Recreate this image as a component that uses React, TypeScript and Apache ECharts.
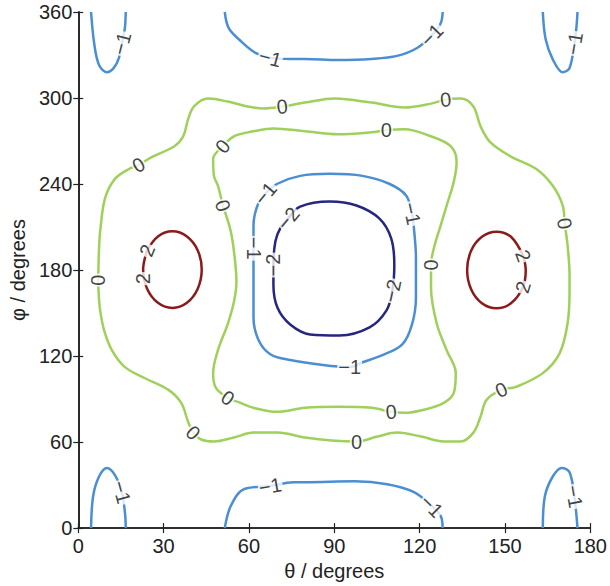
import React, { useEffect, useRef } from "react";
import * as echarts from "echarts";

type P = [number, number];

// Contour lines, in (θ, φ) degrees
const zeroOuter: P[] = [
  [7.0, 173], [7.3, 195], [7.7, 207], [9.4, 230], [12.9, 243.6], [17.8, 250.5],
  [21.2, 253.3], [25.8, 258.8], [33.8, 266.4], [36.9, 273.3], [38.6, 285.1], [40.7, 294.1],
  [45.6, 299.6], [52.6, 297.5], [59.5, 294.1], [65.1, 292.7], [71.7, 294.1], [79.7, 296.8],
  [90.2, 299.6], [103.1, 296.8], [114.6, 293.4], [124.0, 296.1], [129.2, 298.9], [134.4, 299.6],
  [138.9, 294.1], [141.4, 280.3], [144.8, 269.2], [151.8, 259.5], [160.9, 250.6], [166.8, 238.8],
  [170.3, 225.0], [171.0, 212.5], [172.0, 197.3], [172.7, 176.5], [172.7, 165.5], [172.0, 142.7],
  [169.2, 121.9], [163.3, 108.1], [153.9, 98.5], [148.7, 96.4], [143.5, 89.4], [141.4, 77.7],
  [138.9, 66.6], [134.4, 60.4], [128.5, 60.4], [120.5, 63.9], [112.1, 66.6], [105.2, 63.9],
  [97.8, 60.4], [89.1, 61.1], [79.7, 63.2], [70.0, 66.6], [61.6, 66.6], [54.7, 63.2],
  [47.7, 60.4], [43.2, 61.8], [40.4, 66.6], [38.6, 74.2], [36.2, 87.3], [31.7, 96.4],
  [23.3, 104.7], [16.4, 112.3], [11.8, 124.1], [9.1, 137.9], [7.7, 151.7], [7.2, 163], [7.0, 173],
];

const zeroInner: P[] = [
  [50.8, 225.0], [49.1, 238.8], [47.7, 245.7],
  [47.4, 257.5], [50.8, 266.4], [54.7, 273.3], [61.6, 276.8], [68.6, 278.8], [79.7, 276.8],
  [91.2, 274.7], [103.1, 276.1], [108.3, 277.5], [114.6, 278.2], [124.0, 273.3], [130.9, 266.4],
  [133.0, 255.4], [132.0, 241.5], [129.5, 225.0], [127.4, 211.1], [125.0, 195.2], [124.0, 183.5],
  [124.0, 167.6], [126.0, 142.7], [129.5, 124.1], [132.7, 108.1], [132.0, 94.3], [128.5, 87.4],
  [121.5, 82.6], [114.6, 80.4], [110.0, 81.1], [103.1, 83.9], [91.2, 84.6], [79.7, 83.9],
  [70.0, 81.1], [61.6, 83.9], [56.1, 88.0], [52.6, 90.8], [48.4, 97.8], [47.4, 108.1],
  [49.1, 124.1], [52.6, 142.7], [54.8, 158.6], [55.6, 172], [55.0, 188.4], [53.6, 207.0],
  [50.8, 225.0],
];

const minusOneCenter: P[] = [
  [65.8, 233.4], [70.0, 240.2], [78.0, 245.7], [88.4, 247.1], [99.9, 245.7], [109.3, 240.2],
  [115.3, 231.9], [117.3, 219.4], [118.0, 209.1], [118.7, 188.4], [118.7, 160.7], [117.3, 142.0],
  [113.9, 128.2], [106.9, 120.6], [99.9, 115.7], [95.4, 112.3], [86.0, 113.7], [74.5, 117.2],
  [67.5, 121.3], [63.4, 131.0], [61.6, 146.9], [61.6, 169.7], [61.6, 195.2], [61.6, 211.1],
  [63.0, 225.0], [65.8, 233.4],
];

const minusTwo: P[] = [
  [73.8, 216.0], [78.0, 224.3], [88.4, 227.8], [97.8, 225.0], [105.8, 216.0], [110.0, 202.1],
  [111.1, 183.5], [110.4, 165.5], [108.3, 151.7], [102.4, 140.0], [91.9, 134.4], [81.5, 135.1],
  [74.5, 142.0], [70.0, 153.8], [68.6, 169.7], [68.6, 183.5], [69.3, 200.1], [71.0, 209.1],
  [73.8, 216.0],
];

const plusTwoLeft: P[] = [
  [24.2, 193.7], [28.0, 203.4], [33.1, 207.0], [38.2, 203.4], [42.0, 193.7], [43.4, 180.3],
  [42.0, 167.0], [38.2, 157.2], [33.1, 153.6], [28.0, 157.2], [24.2, 167.0], [22.8, 180.3],
  [24.2, 193.7],
];

const plusTwoRight: P[] = [
  [156.4, 190.0], [157.3, 180.0], [156.3, 168.0], [152.1, 156.8], [147.0, 153.3], [141.9, 156.8],
  [138.1, 166.6], [136.7, 180.0], [138.1, 193.5], [141.9, 203.2], [147.0, 206.8], [152.1, 203.2],
  [156.4, 190.0],
];

const minusOneTopLeft: P[] = [
  [4.5, 360], [5.6, 338], [7.3, 323], [10.1, 318], [12.5, 321], [14.3, 328], [15.3, 338], [16.4, 349], [16.7, 360],
];
const minusOneBottomLeft: P[] = [
  [4.5, 0], [5.2, 22], [7.3, 36], [10.1, 42], [12.9, 37], [15.3, 25], [16.4, 11], [16.7, 0],
];
const minusOneTopRight: P[] = [
  [163.3, 360], [164.3, 341], [166.8, 327], [170.3, 318], [172.7, 321], [174.4, 338], [175.1, 349], [175.5, 360],
];
const minusOneBottomRight: P[] = [
  [163.3, 0], [164.0, 22], [166.8, 36], [170.0, 42], [172.7, 39], [174.4, 22], [175.5, 0],
];
const minusOneTop: P[] = [
  [51.5, 360], [52.9, 348.8], [57.1, 339.8], [62.3, 331.5], [67.5, 328.0], [74.5, 327.3],
  [79.7, 327.3], [91.2, 326.6], [103.1, 327.3], [112.1, 329.4], [119.1, 334.9], [124.3, 343.9],
  [127.4, 352.2], [128.1, 360],
];
const minusOneBottom: P[] = [
  [51.5, 0], [53.6, 15.4], [58.1, 27.0], [67.5, 29.3], [75.6, 32.0], [79.7, 32.0], [97.1, 32.6],
  [108.6, 30.6], [118.0, 25.1], [124.3, 15.4], [127.4, 8.5], [128.1, 0],
];

// Contour labels: position (θ, φ), text, and rotation along the line
const contourLabels: { theta: number; phi: number; text: string; angle: number }[] = [
  { theta: 7.0, phi: 173, text: "0", angle: 90 },
  { theta: 21.2, phi: 253.3, text: "0", angle: 30 },
  { theta: 71.7, phi: 294.1, text: "0", angle: 5 },
  { theta: 129.2, phi: 298.9, text: "0", angle: 5 },
  { theta: 171.0, phi: 212.5, text: "0", angle: -80 },
  { theta: 148.7, phi: 96.4, text: "0", angle: 25 },
  { theta: 97.8, phi: 60.4, text: "0", angle: 0 },
  { theta: 40.4, phi: 66.6, text: "0", angle: -45 },
  { theta: 50.8, phi: 225.0, text: "0", angle: -72 },
  { theta: 50.8, phi: 266.4, text: "0", angle: 50 },
  { theta: 108.3, phi: 277.5, text: "0", angle: 0 },
  { theta: 124.0, phi: 183.5, text: "0", angle: 90 },
  { theta: 110.0, phi: 81.1, text: "0", angle: 5 },
  { theta: 52.6, phi: 90.8, text: "0", angle: -35 },
  { theta: 65.8, phi: 233.4, text: "\u22121", angle: 50 },
  { theta: 117.3, phi: 219.4, text: "\u22121", angle: -78 },
  { theta: 95.4, phi: 112.3, text: "\u22121", angle: 0 },
  { theta: 61.6, phi: 195.2, text: "\u22121", angle: -90 },
  { theta: 73.8, phi: 216.0, text: "\u22122", angle: 50 },
  { theta: 110.4, phi: 165.5, text: "\u22122", angle: 78 },
  { theta: 68.6, phi: 183.5, text: "\u22122", angle: 90 },
  { theta: 24.2, phi: 193.7, text: "2", angle: 68 },
  { theta: 22.9, phi: 174, text: "2", angle: 90 },
  { theta: 156.4, phi: 190, text: "2", angle: -70 },
  { theta: 156.3, phi: 168, text: "2", angle: 73 },
  { theta: 15.3, phi: 338, text: "\u22121", angle: 75 },
  { theta: 15.3, phi: 25, text: "\u22121", angle: -75 },
  { theta: 174.4, phi: 338, text: "\u22121", angle: 80 },
  { theta: 174.4, phi: 22, text: "\u22121", angle: -80 },
  { theta: 67.5, phi: 328.0, text: "\u22121", angle: -15 },
  { theta: 124.3, phi: 343.9, text: "\u22121", angle: 46 },
  { theta: 67.5, phi: 29.3, text: "\u22121", angle: 10 },
  { theta: 124.3, phi: 15.4, text: "\u22121", angle: -45 },
];

const GREEN = "#9fd05a";
const BLUE = "#4a8fd3";
const NAVY = "#26267f";
const RED = "#8c1a1a";
const FONT = "'Liberation Sans', Arial, Helvetica, sans-serif";

const contours: { data: P[]; color: string }[] = [
  { data: zeroOuter, color: GREEN },
  { data: zeroInner, color: GREEN },
  { data: minusOneCenter, color: BLUE },
  { data: minusTwo, color: NAVY },
  { data: plusTwoLeft, color: RED },
  { data: plusTwoRight, color: RED },
  { data: minusOneTopLeft, color: BLUE },
  { data: minusOneBottomLeft, color: BLUE },
  { data: minusOneTopRight, color: BLUE },
  { data: minusOneBottomRight, color: BLUE },
  { data: minusOneTop, color: BLUE },
  { data: minusOneBottom, color: BLUE },
];

export default function App() {
  const ref = useRef<HTMLDivElement>(null);

  useEffect(() => {
    if (!ref.current) return;
    const chart = echarts.init(ref.current, undefined, { renderer: "svg" });
    const axisLine = { show: true, lineStyle: { color: "#222", width: 1.6 } };
    const axisTick = { show: true, inside: true, length: 5, lineStyle: { color: "#222", width: 1.2 } };
    const labelStyle = { color: "#222", fontSize: 20, fontFamily: FONT };

    const series: any[] = contours.map((c) => ({
      type: "line",
      data: c.data,
      showSymbol: false,
      symbol: "none",
      smooth: 0.35,
      lineStyle: { color: c.color, width: 2.5 },
      z: 2,
      silent: true,
    }));

    series.push({
      type: "scatter",
      symbolSize: 0,
      z: 5,
      silent: true,
      data: contourLabels.map((l) => ({
        value: [l.theta, l.phi],
        name: l.text,
        label: { rotate: l.angle },
      })),
      label: {
        show: true,
        position: "inside",
        formatter: "{b}",
        color: "#111",
        fontSize: 20,
        fontFamily: FONT,
        backgroundColor: "#fff",
        padding: [0, 1],
      },
    });

    chart.setOption({
      animation: false,
      backgroundColor: "#fff",
      grid: { left: 76, right: 17, top: 12, bottom: 54 },
      xAxis: [
        {
          type: "value",
          min: 0,
          max: 180,
          interval: 30,
          position: "bottom",
          axisLine,
          axisTick,
          splitLine: { show: false },
          axisLabel: { ...labelStyle, margin: 8 },
          name: "θ / degrees",
          nameLocation: "middle",
          nameGap: 31,
          nameTextStyle: { color: "#222", fontSize: 20, fontFamily: FONT },
        },
        {
          type: "value",
          min: 0,
          max: 180,
          interval: 30,
          position: "top",
          axisLine,
          axisTick,
          splitLine: { show: false },
          axisLabel: { show: false },
        },
      ],
      yAxis: [
        {
          type: "value",
          min: 0,
          max: 360,
          interval: 60,
          position: "left",
          axisLine,
          axisTick,
          splitLine: { show: false },
          axisLabel: { ...labelStyle, margin: 6 },
          name: "φ / degrees",
          nameLocation: "middle",
          nameGap: 50,
          nameTextStyle: { color: "#222", fontSize: 20, fontFamily: FONT },
        },
        {
          type: "value",
          min: 0,
          max: 360,
          interval: 60,
          position: "right",
          axisLine,
          axisTick,
          splitLine: { show: false },
          axisLabel: { show: false },
        },
      ],
      series,
    });

    return () => chart.dispose();
  }, []);

  return (
    <div
      ref={ref}
      style={{ position: "fixed", left: 0, top: 0, width: 610, height: 586, background: "#fff" }}
    />
  );
}
